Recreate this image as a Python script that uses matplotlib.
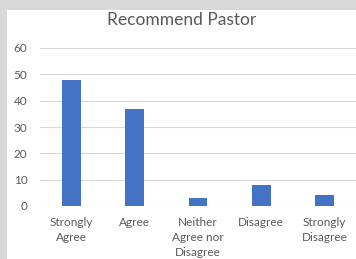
import matplotlib
matplotlib.use('Agg')
import numpy as np
from matplotlib import pyplot as plt
from matplotlib.patches import Rectangle

categories = ['Strongly\nAgree', 'Agree', 'Neither\nAgree nor\nDisagree', 'Disagree', 'Strongly\nDisagree']
values = [48, 37, 3, 8, 4]
yticks = [0, 10, 20, 30, 40, 50, 60]

plt.rcParams['font.family'] = ['Lato', 'DejaVu Sans']
txt = '#595959'

fig = plt.figure(figsize=(3.56, 2.59), dpi=100)
fig.patch.set_facecolor('#d9d9d9')
fig.patches.append(Rectangle((7 / 356., 0), 1, 1 - 10 / 259., transform=fig.transFigure,
                             facecolor='white', edgecolor='none', zorder=-1))

ax = fig.add_axes([40 / 356., 1 - 206 / 259., 1 - 40 / 356., (206 - 48) / 259.])
ax.set_zorder(1)
ax.set_facecolor('none')
x = np.arange(len(categories))
ax.bar(x, values, width=0.3, color='#4472c4', zorder=3)
ax.set_xlim(-0.5, len(categories) - 0.5)
ax.set_ylim(0, 60)
ax.set_yticks(yticks)
ax.set_xticks(x)
ax.set_xticklabels(categories, fontsize=8.5, color=txt, linespacing=1.45, va='top')
ax.tick_params(axis='y', labelsize=8.5, labelcolor=txt, length=0, pad=9)
ax.tick_params(axis='x', length=0, pad=8)
ax.grid(axis='y', color='#d9d9d9', linewidth=0.8, zorder=0)
for s in ax.spines.values():
    s.set_visible(False)

fig.text(0.5 + 7 / 356. / 2, 1 - 20 / 259., 'Recommend Pastor', ha='center', va='center',
         fontsize=12.5, color=txt)

fig.savefig('out.png', dpi=100, facecolor=fig.get_facecolor())
